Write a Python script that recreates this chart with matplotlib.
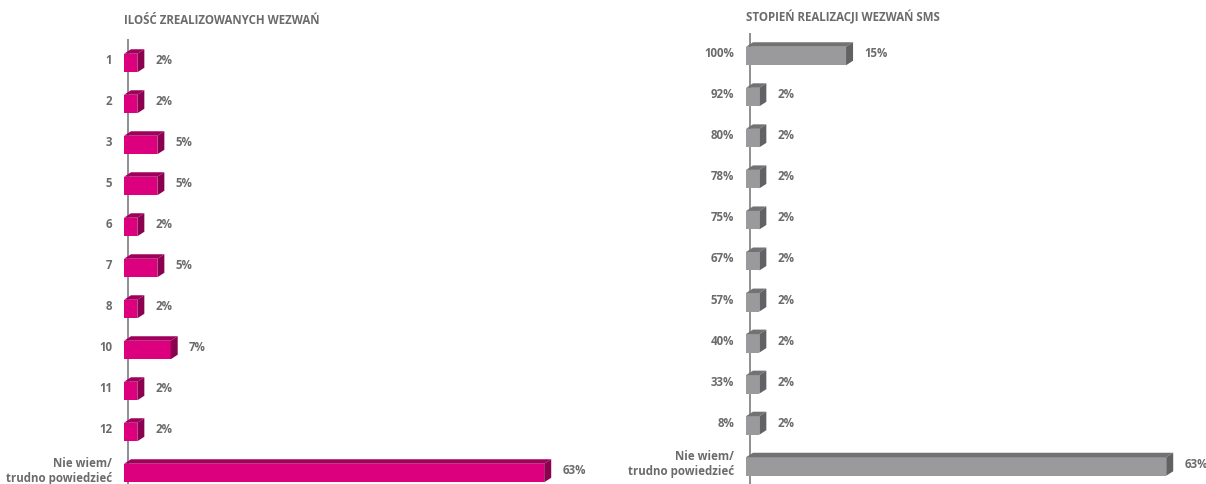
import matplotlib
matplotlib.use("Agg")
import matplotlib.pyplot as plt
from matplotlib.patches import Polygon

# --- data ---------------------------------------------------------------
left_title = "ILOŚĆ ZREALIZOWANYCH WEZWAŃ"
left_categories = ["1", "2", "3", "5", "6", "7", "8", "10", "11", "12",
                   "Nie wiem/\ntrudno powiedzieć"]
left_values = [2, 2, 5, 5, 2, 5, 2, 7, 2, 2, 63]

right_title = "STOPIEŃ REALIZACJI WEZWAŃ SMS"
right_categories = ["100%", "92%", "80%", "78%", "75%", "67%", "57%", "40%",
                    "33%", "8%", "Nie wiem/\ntrudno powiedzieć"]
right_values = [15, 2, 2, 2, 2, 2, 2, 2, 2, 2, 63]

# --- styling ------------------------------------------------------------
W, H, DPI = 1206, 484, 100
PX_PER_PCT = 6.67
XMAX = 68
DEPTH_X, DEPTH_Y = 7, 4.5        # pixel depth of the 3D extrusion
BAR_PX = 18.5                    # front-face height in pixels
TEXT = "#6b6b6d"
FONT = "Open Sans"
FS = 8.3

fig = plt.figure(figsize=(W / DPI, H / DPI), dpi=DPI)
fig.patch.set_facecolor("white")


def panel(x0, row0, spacing, top, categories, values, title, title_y,
          front, topc, side):
    n = len(values)
    ylo = -(row0 - top) / spacing
    yhi = (n - 1) + (H - (row0 + (n - 1) * spacing)) / spacing
    ax_h = H - top
    ax = fig.add_axes([x0 / W, 0, XMAX * PX_PER_PCT / W, ax_h / H])
    ax.set_xlim(0, XMAX)
    ax.set_ylim(yhi, ylo)
    ax.axis("off")

    dx = DEPTH_X / PX_PER_PCT
    dy = DEPTH_Y / spacing
    h = BAR_PX / spacing

    # vertical axis line
    ax.plot([3.5 / PX_PER_PCT] * 2, [ylo, yhi], color="#8e8e90", lw=1.4,
            zorder=1, solid_capstyle="butt", clip_on=False)

    ypos = list(range(n))
    ax.barh(ypos, values, height=h, left=0, color=front, zorder=3,
            linewidth=0)
    for y, v, cat in zip(ypos, values, categories):
        t = y - h / 2
        b = y + h / 2
        ax.add_patch(Polygon([(0, t), (v, t), (v + dx, t - dy), (dx, t - dy)],
                             closed=True, facecolor=topc, lw=0, zorder=3))
        ax.add_patch(Polygon([(v, t), (v + dx, t - dy), (v + dx, b - dy),
                              (v, b)],
                             closed=True, facecolor=side, lw=0, zorder=3))
        yc = y - dy / 2
        ax.annotate(f"{v}%", xy=(v, yc), xytext=(18, 0),
                    textcoords="offset pixels", ha="left", va="center",
                    fontsize=FS, fontweight="bold", color=TEXT, family=FONT)
        ax.annotate(cat, xy=(0, yc), xytext=(-12, 0),
                    textcoords="offset pixels", ha="right", va="center",
                    fontsize=FS, fontweight="bold", color=TEXT, family=FONT,
                    linespacing=1.2, multialignment="right")

    fig.text(x0 / W, 1 - title_y / H, title, ha="left", va="center",
             fontsize=FS, fontweight="bold", color=TEXT, family=FONT)


panel(124, 63.0, 41.0, 39, left_categories, left_values, left_title, 20,
      "#dc007f", "#a0005c", "#8c0050")
panel(746, 56.0, 41.05, 33, right_categories, right_values, right_title, 17,
      "#9a9a9c", "#727274", "#626264")

fig.savefig("out.png", dpi=DPI, facecolor="white")
